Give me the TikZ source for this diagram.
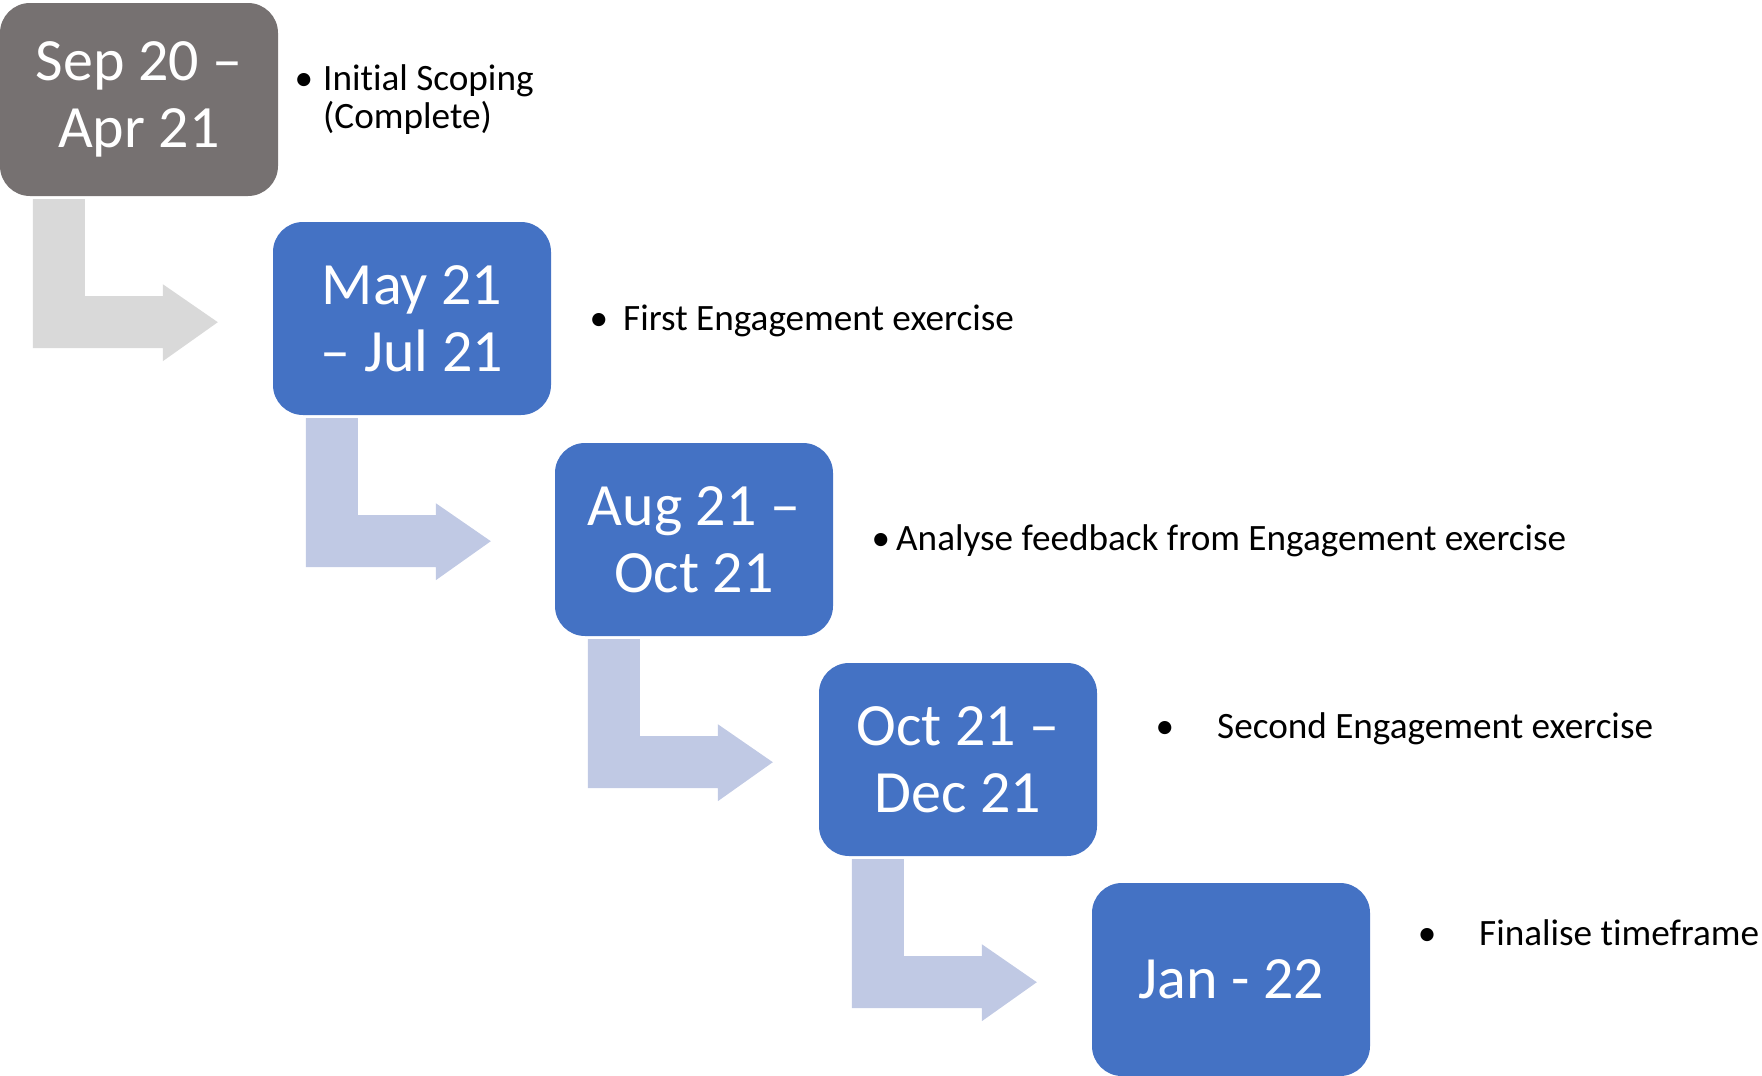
\documentclass[tikz,border=0pt]{standalone}
\usepackage{fontspec}
\setmainfont{Carlito}[Ligatures=NoCommon]
\usetikzlibrary{calc}
\definecolor{doneGray}{RGB}{118,113,113}
\definecolor{stageBlue}{RGB}{68,114,196}
\definecolor{bendGray}{RGB}{217,217,217}
\definecolor{bendBlue}{RGB}{192,201,228}

% L-shaped arrow hanging below a stage box, pointing right towards the next one
\newcommand\drawbend[2]{%
  \fill[#2] ([shift={(33,3)}]#1.south west) -- ++(52,0) -- ++(0,97) -- ++(78,0)
    -- ++(0,-12) -- ++(55,38) -- ++(-55,39) -- ++(0,-13) -- ++(-130,0) -- cycle;}

\begin{document}
\begin{tikzpicture}[x=1pt,y=-1pt,
  stagebox/.style={rounded corners=30pt, minimum width=278pt, minimum height=193pt,
    inner sep=0pt, text=white, align=center, font=\fontsize{60}{67}\selectfont},
  item/.style={anchor=base west, inner sep=0pt, font=\fontsize{37.2}{40}\selectfont},
  dot/.style={anchor=base, inner sep=0pt, font=\fontsize{37.2}{40}\selectfont}]
\useasboundingbox (0,0) rectangle (1762,1076);

% stage boxes
\node[stagebox, fill=doneGray]  (b1) at (139,99.5)  {Sep 20 –\\Apr 21};
\node[stagebox, fill=stageBlue] (b2) at (412,318.5) {May 21\\– Jul 21};
\node[stagebox, fill=stageBlue] (b3) at (694,539.5) {Aug 21 –\\Oct 21};
\node[stagebox, fill=stageBlue] (b4) at (958,759.5) {Oct 21 –\\Dec 21};
\node[stagebox, fill=stageBlue] (b5) at (1231,979.5) {Jan - 22};

% bent arrows between consecutive stages
\drawbend{b1}{bendGray}
\drawbend{b2}{bendBlue}
\drawbend{b3}{bendBlue}
\drawbend{b4}{bendBlue}

% bullet points beside each stage
\node[dot]  (d1)  at (304,90)  {•};
\node[item] (t1a) at (323,90)  {Initial Scoping};
\node[item] (t1b) at (323,128) {(Complete)};

\node[dot]  (d2) at (599,330) {•};
\node[item] (t2) at (623,330) {First Engagement exercise};

\node[dot]  (d3) at (881,550) {•};
\node[item] (t3) at (896,550) {Analyse feedback from Engagement exercise};

\node[dot]  (d4) at (1165,738) {•};
\node[item] (t4) at (1217,738) {Second Engagement exercise};

\node[dot]  (d5) at (1427,945) {•};
\node[item] (t5) at (1479,945) {Finalise timeframe};
\end{tikzpicture}
\end{document}
